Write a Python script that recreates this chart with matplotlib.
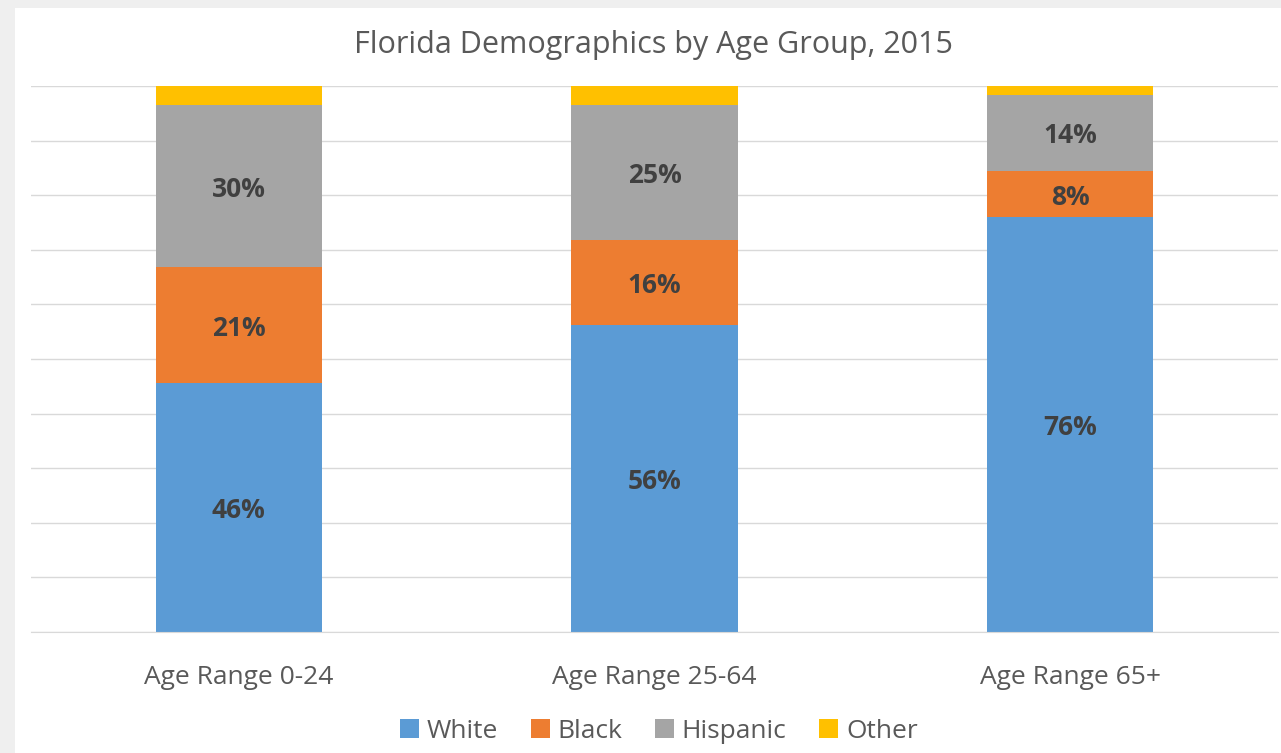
import matplotlib
matplotlib.use('Agg')
import matplotlib.pyplot as plt
from matplotlib.patches import Rectangle
import numpy as np

plt.rcParams['font.family'] = ['Open Sans', 'DejaVu Sans']

##data (percent of each age group)
groups = ['Age Range 0-24', 'Age Range 25-64', 'Age Range 65+']
series = ['White', 'Black', 'Hispanic', 'Other']
white = [45.6, 56.2, 76.0]
black = [21.2, 15.6, 8.4]
hispanic = [29.7, 24.7, 14.0]
other = [3.5, 3.5, 1.6]
show_labels = [True, True, True, False]
colors = ['#5b9bd5', '#ed7d31', '#a5a5a5', '#ffc000']

fig = plt.figure(figsize=(12.81, 7.53), dpi=100, facecolor='#efefef')
##white chart card with shadow border on left/top
card = Rectangle((15/1281, 0), 1, 745/753, transform=fig.transFigure,
                 facecolor='white', edgecolor='none', zorder=-5)
fig.patches.append(card)

ax = fig.add_axes([31/1281, 121/753, 1247/1281, 546/753])
ax.set_zorder(2)
ax.set_facecolor('none')

x = np.arange(len(groups))
bottom = np.zeros(len(groups))
for vals, name, col, lab in zip([white, black, hispanic, other], series, colors, show_labels):
    vals = np.array(vals)
    ax.bar(x, vals, 0.4, bottom=bottom, color=col, label=name, zorder=2)
    if lab:
        for xi, b, v in zip(x, bottom, vals):
            ax.text(xi, b + v/2, '%d%%' % round(v), ha='center', va='center_baseline',
                    fontsize=19, fontweight='bold', color='#404040', zorder=3)
    bottom += vals

ax.set_xlim(-0.5, 2.5)
ax.set_ylim(0, 100)
ax.set_yticks(np.arange(0, 101, 10))
ax.yaxis.grid(True, color='#d9d9d9', linewidth=1)
ax.set_axisbelow(True)
ax.tick_params(axis='y', left=False, labelleft=False)
ax.tick_params(axis='x', bottom=False, labelsize=19, labelcolor='#595959', pad=20)
ax.set_xticks(x)
ax.set_xticklabels(groups)
for s in ['left', 'right', 'top']:
    ax.spines[s].set_visible(False)
ax.spines['bottom'].set_color('#d9d9d9')

fig.text(654/1281, 1 - 45/753, 'Florida Demographics by Age Group, 2015',
         ha='center', va='center', fontsize=22, color='#595959')

leg = fig.legend(loc='center', bbox_to_anchor=(659/1281, 1 - 731/753), ncol=4,
                 frameon=False, fontsize=19, handlelength=0.7, handleheight=0.7,
                 handletextpad=0.3, columnspacing=1.25)
for t in leg.get_texts():
    t.set_color('#595959')

fig.savefig('out.png', dpi=100, facecolor=fig.get_facecolor())
